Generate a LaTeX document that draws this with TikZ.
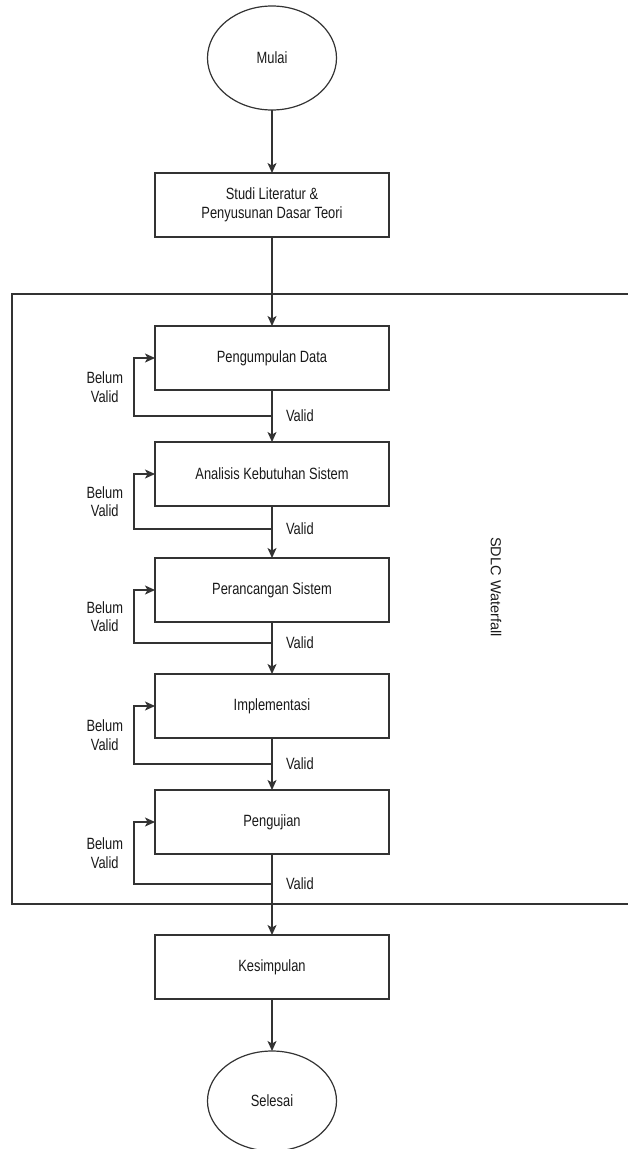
\documentclass[tikz,border=0pt]{standalone}
\usepackage{fontspec}
\setmainfont{Liberation Sans}[FakeStretch=0.79]
\newfontfamily\sidefont{Liberation Sans}
\usetikzlibrary{shapes.geometric,positioning,arrows.meta}
\tikzset{
stage/.style={
	  draw, rectangle, minimum width=234pt, minimum height=64pt},
terminal/.style={
	  draw, ellipse, minimum width=129pt, minimum height=104pt},
flow/.style={-{Stealth[length=10pt,width=9pt,inset=2.5pt]}},
note/.style={align=center, inner sep=1pt}
}

\begin{document}
\begin{tikzpicture}[x=1pt, y=-1pt, line width=1.2pt, draw=black!80,
	text=black!90, font=\fontsize{16.3}{18.5}\selectfont, outer sep=0pt]
	\useasboundingbox (0,0) rectangle (627,1149);
	% SDLC frame
	\draw (12,294) rectangle (660,904);
	\node[rotate=-90, font=\sidefont\fontsize{14.5}{16}\selectfont] (sdlc) at (496,587) {SDLC Waterfall};

	\node[terminal] (mulai) at (272,58) {Mulai};
	\node[stage, align=center, below=63pt of mulai] (studi) {Studi Literatur \&\\Penyusunan Dasar Teori};
	\node[stage, below=89pt of studi] (kumpul) {Pengumpulan Data};
	\node[stage, below=52pt of kumpul] (analisis) {Analisis Kebutuhan Sistem};
	\node[stage, below=52pt of analisis] (rancang) {Perancangan Sistem};
	\node[stage, below=52pt of rancang] (impl) {Implementasi};
	\node[stage, below=52pt of impl] (uji) {Pengujian};
	\node[stage, below=81pt of uji] (simpul) {Kesimpulan};
	\node[terminal, below=52pt of simpul, minimum height=100pt] (selesai) {Selesai};

	\draw[flow] (mulai) -- (studi);
	\draw[flow] (studi) -- (kumpul);
	\draw[flow] (kumpul) -- (analisis);
	\draw[flow] (analisis) -- (rancang);
	\draw[flow] (rancang) -- (impl);
	\draw[flow] (impl) -- (uji);
	\draw[flow] (uji) -- (simpul);
	\draw[flow] (simpul) -- (selesai);

	% feedback: Belum Valid
	\coordinate[below=26pt of kumpul.south] (j1);
	\draw[flow] (j1) node[note, right=13pt] {Valid}
		-| ([xshift=-21pt]kumpul.west) node[note, pos=0.75, left=10pt] {Belum\\Valid} -- (kumpul.west);
	\coordinate[below=23pt of analisis.south] (j2);
	\draw[flow] (j2) node[note, right=13pt] {Valid}
		-| ([xshift=-21pt]analisis.west) node[note, pos=0.75, left=10pt] {Belum\\Valid} -- (analisis.west);
	\coordinate[below=21pt of rancang.south] (j3);
	\draw[flow] (j3) node[note, right=13pt] {Valid}
		-| ([xshift=-21pt]rancang.west) node[note, pos=0.75, left=10pt] {Belum\\Valid} -- (rancang.west);
	\coordinate[below=26pt of impl.south] (j4);
	\draw[flow] (j4) node[note, right=13pt] {Valid}
		-| ([xshift=-21pt]impl.west) node[note, pos=0.75, left=10pt] {Belum\\Valid} -- (impl.west);
	\coordinate[below=30pt of uji.south] (j5);
	\draw[flow] (j5) node[note, right=13pt] {Valid}
		-| ([xshift=-21pt]uji.west) node[note, pos=0.75, left=10pt] {Belum\\Valid} -- (uji.west);
\end{tikzpicture}
\end{document}
